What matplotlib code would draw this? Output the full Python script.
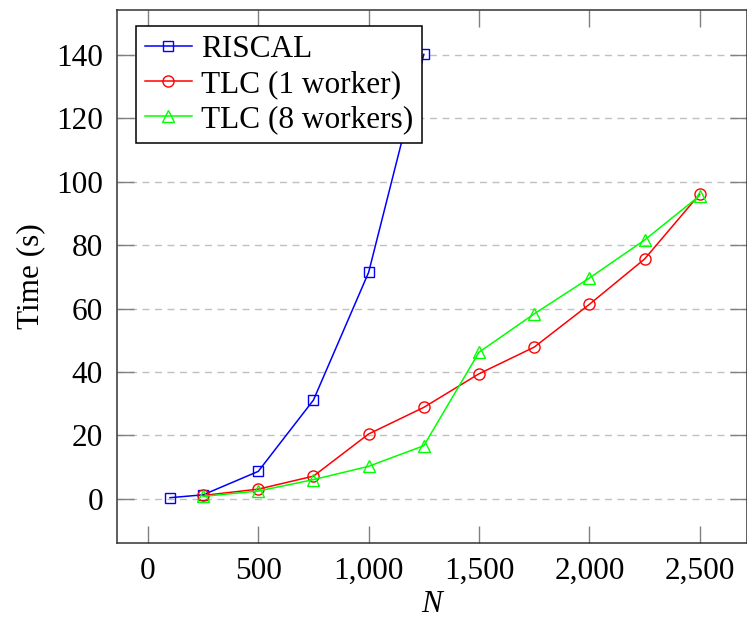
import matplotlib
matplotlib.use("Agg")
import matplotlib.pyplot as plt

# Data
riscal_n = [100, 250, 500, 750, 1000, 1250]
riscal_t = [0.3, 1.2, 8.6, 31.1, 71.4, 140.2]

tlc1_n = [250, 500, 750, 1000, 1250, 1500, 1750, 2000, 2250, 2500]
tlc1_t = [1.0, 3.0, 7.1, 20.4, 28.8, 39.4, 47.8, 61.3, 75.6, 96.1]

tlc8_n = [250, 500, 750, 1000, 1250, 1500, 1750, 2000, 2250, 2500]
tlc8_t = [0.7, 2.4, 6.0, 10.2, 16.7, 46.2, 58.3, 69.6, 81.6, 95.6]

x_ticks = [0, 500, 1000, 1500, 2000, 2500]
x_labels = ["0", "500", "1,000", "1,500", "2,000", "2,500"]
y_ticks = [0, 20, 40, 60, 80, 100, 120, 140]

plt.rcParams['font.family'] = ['Liberation Serif', 'DejaVu Serif']
FS = 22.5
plt.rcParams['font.size'] = FS

fig = plt.figure(figsize=(7.47, 6.21), dpi=100)
ax = fig.add_axes([117/747, 1 - 543/621, (746.5 - 117)/747, (543 - 10)/621])

lw = 1.1
ax.plot(riscal_n, riscal_t, color=(0, 0, 1), lw=lw, marker='s', ms=7.5,
        mfc='none', mec=(0, 0, 1), mew=1.0, label='RISCAL', zorder=3)
ax.plot(tlc1_n, tlc1_t, color=(1, 0, 0), lw=lw, marker='o', ms=8,
        mfc='none', mec=(1, 0, 0), mew=1.0, label='TLC (1 worker)', zorder=3)
ax.plot(tlc8_n, tlc8_t, color=(0, 1, 0), lw=lw, marker='^', ms=8,
        mfc='none', mec=(0, 1, 0), mew=1.0, label='TLC (8 workers)', zorder=3)

ax.set_xlim(-140, 2712)
ax.set_ylim(-14, 154.2)
ax.set_xticks(x_ticks)
ax.set_xticklabels(x_labels)
ax.set_yticks(y_ticks)

ax.yaxis.grid(True, linestyle=(0, (5, 4)), color='#c0c0c0', lw=1.0)
ax.set_axisbelow(True)

ax.tick_params(direction='in', length=12, width=1.0, color='#808080',
               top=True, right=True, labelsize=FS, pad=10)
for s in ax.spines.values():
    s.set_linewidth(1.1)
    s.set_color('#333333')

ax.set_xlabel('N', style='italic', fontsize=FS, labelpad=3)
ax.set_ylabel('Time (s)', fontsize=FS, labelpad=8)

leg = ax.legend(loc='upper left', bbox_to_anchor=(19/630, 1 - 16/533),
                frameon=True, fancybox=False, edgecolor='black',
                framealpha=1, borderpad=0.28, labelspacing=0.2,
                handlelength=1.5, handletextpad=0.3, borderaxespad=0,
                fontsize=FS)
leg.get_frame().set_linewidth(1.1)

fig.savefig('out.png', dpi=100)
